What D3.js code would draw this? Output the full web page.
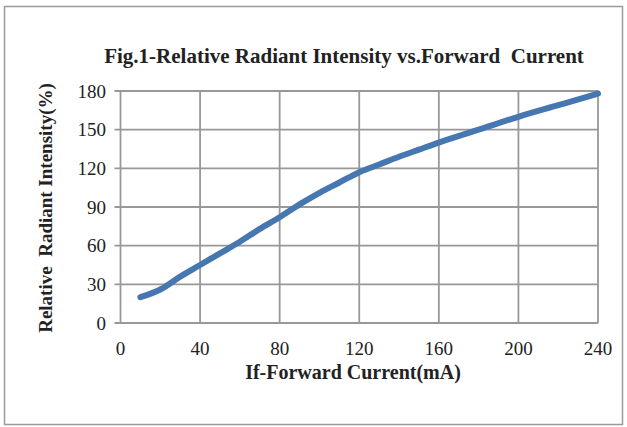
<!DOCTYPE html>
<html><head><meta charset="utf-8">
<script src="https://cdn.jsdelivr.net/npm/d3@7/dist/d3.min.js"></script>
<style>body{margin:0;background:#fff}svg{display:block}</style>
</head><body><svg id="c" width="627" height="427"></svg>
<script>
const current = [10,20,30,40,50,60,70,80,90,100,110,120,130,140,150,160,180,200,220,240];
const intensity = [20,26,36,45,54,63,73,82,92,101,109,117,123,129,134.5,140,150,160,169,178];
const xTicks = [0,40,80,120,160,200,240];
const yTicks = [0,30,60,90,120,150,180];
const title = "Fig.1-Relative Radiant Intensity vs.Forward\u00a0 Current";
const xLabel = "If-Forward Current(mA)";
const yLabel = "Relative\u00a0 Radiant Intensity(%)";
const FONT = "'Liberation Serif', 'Times New Roman', serif";

const svg = d3.select("#c");
const m = {l:120.5, r:598, t:91, b:323};
const x = d3.scaleLinear().domain([0,240]).range([m.l,m.r]);
const y = d3.scaleLinear().domain([0,180]).range([m.b,m.t]);

svg.append("rect").attr("x",4.5).attr("y",6.5).attr("width",618).attr("height",418)
  .attr("fill","#fff").attr("stroke","#9a9a9a").attr("stroke-width",1.5);

const grid = svg.append("g").attr("stroke","#989898").attr("stroke-width",1.8);
grid.selectAll(".h").data(yTicks).join("line")
  .attr("x1",m.l-6).attr("x2",m.r).attr("y1",d=>y(d)).attr("y2",d=>y(d));
grid.selectAll(".v").data(xTicks).join("line")
  .attr("x1",d=>x(d)).attr("x2",d=>x(d)).attr("y1",m.t).attr("y2",m.b);

svg.append("g").selectAll("text").data(yTicks).join("text")
  .attr("x",106).attr("y",d=>y(d)).attr("dy","0.35em").attr("text-anchor","end")
  .attr("font-family",FONT).style("font-family",FONT).style("font-size","19px").attr("fill","#222").text(d=>d);
svg.append("g").selectAll("text").data(xTicks).join("text")
  .attr("x",d=>x(d)).attr("y",355).attr("text-anchor","middle")
  .attr("font-family",FONT).style("font-family",FONT).style("font-size","19px").attr("fill","#222").text(d=>d);

const line = d3.line().x((d,i)=>x(current[i])).y(d=>y(d)).curve(d3.curveMonotoneX);
svg.append("path").datum(intensity).attr("d",line).attr("fill","none")
  .attr("stroke","#4677b0").attr("stroke-width",6).attr("stroke-linecap","round");

svg.append("text").attr("x",344).attr("y",63).attr("text-anchor","middle")
  .style("font-family",FONT).style("font-size","21px").style("font-weight","bold").attr("fill","#222").text(title);
svg.append("text").attr("x",353).attr("y",379).attr("text-anchor","middle")
  .style("font-family",FONT).style("font-size","20px").style("font-weight","bold").attr("fill","#222").text(xLabel);
svg.append("text").attr("transform","translate(52,208) rotate(-90)").attr("text-anchor","middle")
  .style("font-family",FONT).style("font-size","19px").style("font-weight","bold").attr("fill","#222").text(yLabel);
</script></body></html>
